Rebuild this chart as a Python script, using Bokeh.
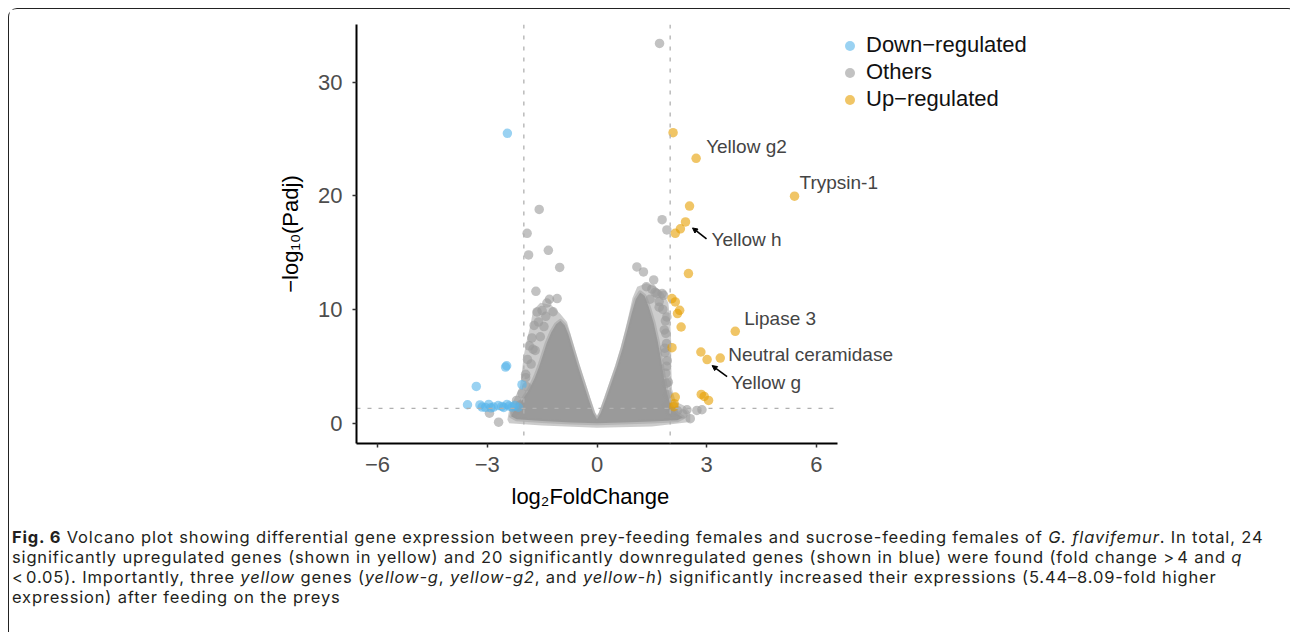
import math
from bokeh.plotting import figure
from bokeh.models import (Range1d, FixedTicker, Legend, LegendItem, Span, Div, Title,
                          Arrow, NormalHead, ColumnDataSource)
from bokeh.layouts import column
from bokeh.core.properties import value
from bokeh.embed import file_html
from bokeh.resources import INLINE

# ---------------- data ----------------
up_x = [2.08, 2.71, 5.40, 2.53, 2.42, 2.28, 2.14, 2.50, 2.05, 2.14, 2.26, 2.20,
        2.30, 3.78, 2.05, 2.84, 3.01, 3.37, 2.85, 2.93, 3.05, 2.14, 2.11, 2.10]
up_y = [25.55, 23.3, 19.97, 19.1, 17.7, 17.1, 16.7, 13.16, 10.96, 10.66, 9.93, 9.64,
        8.46, 8.08, 6.64, 6.26, 5.59, 5.73, 2.53, 2.35, 2.00, 2.29, 1.71, 1.45]

down_x = [-2.45, -2.50, -2.47, -3.30, -2.05, -3.54, -3.14, -2.96, -2.83, -2.60,
          -2.46, -2.32, -3.05, -2.90, -2.70, -2.55, -2.40, -2.25, -2.15, -3.20]
down_y = [25.5, 4.93, 5.05, 3.23, 3.38, 1.62, 1.41, 1.65, 1.41, 1.47,
          1.65, 1.41, 1.38, 1.35, 1.55, 1.38, 1.50, 1.55, 1.40, 1.60]

other_x = [1.71, -1.58, -1.91, -1.87, -1.33, 1.78, 1.91, -1.02, -1.67, -1.09,
           -1.37, -1.64, 1.09, 1.27, 1.55, 1.59, 1.78, 1.64, 1.82, 1.91,
           1.88, 1.85, 1.90, -1.69, -1.80, -1.75, -1.95, -2.05, -2.20, 2.46,
           2.55, 2.73, 2.87, -2.69, -2.94, -1.50, -1.45, 1.70, 1.95, 2.00,
           -1.92, -1.95, -1.90, -1.85, -1.78, -1.72, -1.55, -1.60, -2.10, -2.25,
           -1.40, -1.20, -1.30, 1.90, 1.93, 1.90, 1.88, 1.92, 1.86, 1.90,
           1.84, 1.87, 1.80, 1.70, 1.50, 1.35, 1.45, 2.10, 2.20, 2.35]
other_y = [33.4, 18.8, 16.7, 14.8, 15.2, 17.9, 17.0, 13.7, 11.6, 10.96,
           10.57, 9.78, 13.74, 13.3, 12.6, 11.5, 11.4, 11.4, 11.25, 9.34,
           7.9, 6.6, 5.0, 6.4, 5.2, 6.5, 4.0, 2.6, 2.0, 1.18,
           0.39, 1.12, 1.18, 0.09, 0.88, 9.9, 8.5, 10.2, 3.6, 1.0,
           3.2, 4.3, 5.6, 6.8, 7.5, 8.6, 7.6, 8.9, 1.6, 1.0,
           9.4, 9.8, 10.9, 1.6, 2.5, 3.5, 4.4, 5.5, 6.2, 7.0,
           8.2, 9.0, 10.0, 10.7, 11.8, 12.0, 10.9, 1.0, 1.1, 0.8]

# outer extent of the sparse (single-layer) part of the non-significant cloud
halo_x = [-2.45, -2.40, -2.25, -2.10, -2.05, -2.00, -1.92, -1.82, -1.75, -1.55, -1.25, -1.00, -0.82,
          -0.72, -0.60, -0.46, -0.32, -0.18, -0.05, 0.00, 0.05, 0.19, 0.34, 0.49, 0.64, 0.77,
          0.88, 0.97, 1.10, 1.35, 1.60, 1.80, 1.95, 2.00, 2.03, 2.03, 2.05, 2.15, 2.40, 2.55,
          2.55, 1.50, 0.00, -1.50, -2.40]
halo_y = [0.30, 1.20, 2.20, 3.30, 4.60, 6.00, 7.30, 8.60, 9.90, 10.60, 10.40, 9.60, 8.90,
          7.80, 6.50, 5.00, 3.60, 2.20, 0.90, 0.60, 0.90, 2.20, 3.60, 5.00, 6.60, 8.20,
          9.70, 11.00, 12.00, 12.30, 12.00, 11.50, 10.60, 9.00, 7.00, 5.00, 3.00, 1.90, 1.50, 0.90,
          0.10, -0.30, -0.40, -0.20, 0.00]

# outline (point centres) of the dense, fully overlapping core of the cloud
cloud_x = [-2.35, -2.25, -2.05, -1.85, -1.70, -1.58, -1.48, -1.38, -1.25, -1.12, -1.00,
           -0.88, -0.78, -0.66, -0.52, -0.38, -0.24, -0.10, 0.00,
           0.10, 0.25, 0.40, 0.55, 0.70, 0.83, 0.95, 1.06, 1.18, 1.30,
           1.42, 1.55, 1.66, 1.75, 1.83, 1.92, 2.02, 2.20, 2.35,
           2.20, 1.50, 0.70, 0.00, -0.70, -1.50, -2.20]
cloud_y = [0.60, 1.20, 2.00, 3.00, 4.00, 5.00, 6.00, 7.00, 8.00, 8.70, 9.00,
           8.60, 7.80, 6.50, 5.00, 3.60, 2.20, 0.90, 0.35,
           0.90, 2.20, 3.60, 5.00, 6.60, 8.20, 9.70, 10.90, 11.50, 11.20,
           10.20, 8.80, 7.20, 5.60, 4.00, 2.60, 1.50, 0.80, 0.50,
           0.25, 0.15, 0.05, 0.00, 0.05, 0.20, 0.35]

label_genes = ["Yellow g2", "Trypsin-1", "Yellow h", "Lipase 3", "Neutral ceramidase", "Yellow g"]
label_point = [1, 2, 4, 13, 17, 16]          # index into up_x / up_y

fc_cut = 2.0        # log2(4)
q_cut = 0.05
x_ticks = [-6, -3, 0, 3, 6]
y_ticks = [0, 10, 20, 30]
legend_labels = ["Down\u2212regulated", "Others", "Up\u2212regulated"]
x_title = "log\u2082FoldChange"
y_title = "\u2212log\u2081\u2080(Padj)"

caption_html = (
    "<b>Fig. 6</b> Volcano plot showing differential gene expression between prey-feeding "
    "females and sucrose-feeding females of <i>G. flavifemur</i>. In total, 24<br>"
    "significantly upregulated genes (shown in yellow) and 20 significantly downregulated "
    "genes (shown in blue) were found (fold change &gt;&#8202;4 and <i>q</i><br>"
    "&lt;&#8202;0.05). Importantly, three <i>yellow</i> genes (<i>yellow-g</i>, <i>yellow-g2</i>, "
    "and <i>yellow-h</i>) significantly increased their expressions (5.44\u20138.09-fold higher<br>"
    "expression) after feeding on the preys"
)

# ---------------- styles / geometry ----------------
FONT = "Liberation Sans"
W, H = 1277, 518
FL, FT, FB = 347, 15, 434          # frame box inside the figure
AXR = 828                          # where the visible x axis ends
FR = 1120                          # frame extends further so labels/legend are not clipped
XR0, XR1 = -6.575, 6.575           # visible axis limits
px_x = (AXR - FL) / (XR1 - XR0)
X_END = XR0 + (FR - FL) / px_x
YR = (-1.79, 35.07)
px_y = (FB - FT) / (YR[1] - YR[0])

label_dx = [10, 5, 26, 9, 8, 24]
label_dy = [-12, -14, 18, -13, -4, 23]
arrow_from = {"Yellow h": (21, 17), "Yellow g": (20, 17)}
arrow_to = {"Yellow h": (7, 6), "Yellow g": (5, 6)}

p = figure(width=W, height=H, x_range=Range1d(XR0, X_END), y_range=Range1d(*YR),
           output_backend="svg", toolbar_location=None, title=None,
           min_border_left=FL, min_border_right=W - FR,
           min_border_top=FT, min_border_bottom=H - FB)
p.outline_line_color = None
p.grid.visible = False
p.background_fill_color = "white"
p.border_fill_color = "white"

# cloud: sparse halo + dense core
p.patch(halo_x, halo_y, fill_color="#999999", fill_alpha=0.5, line_color=None)
p.patch(cloud_x, cloud_y, fill_color="#9a9a9a", fill_alpha=1.0,
        line_color="#999999", line_alpha=0.45, line_width=4, line_join="round")

r_other = p.scatter(other_x, other_y, size=9.5, fill_color="#999999", fill_alpha=0.6, line_color=None)
r_down = p.scatter(down_x, down_y, size=9.5, fill_color="#56B4E9", fill_alpha=0.6, line_color=None)
r_up = p.scatter(up_x, up_y, size=9.5, fill_color="#E69F00", fill_alpha=0.6, line_color=None)

DASH = dict(line_color="#b0b0b0", line_width=1.3, line_dash="4 7")
for loc in (-fc_cut, fc_cut):
    p.add_layout(Span(location=loc, dimension="height", **DASH))
q_line = -math.log10(q_cut)
p.segment(x0=[XR0], y0=[q_line], x1=[XR1], y1=[q_line], **DASH)

# labels
lab_src = ColumnDataSource(dict(
    x=[up_x[i] for i in label_point], y=[up_y[i] for i in label_point],
    text=label_genes, dx=label_dx, dy=label_dy))
p.text(x="x", y="y", text="text", x_offset="dx", y_offset="dy", source=lab_src,
       text_font=value(FONT), text_font_size="19px", text_color="#444444",
       text_baseline="middle", text_align="left")

for g in arrow_from:
    i = label_point[label_genes.index(g)]
    (ax0, ay0), (ax1, ay1) = arrow_from[g], arrow_to[g]
    p.add_layout(Arrow(end=NormalHead(size=5, fill_color="black", line_color="black", line_width=1),
                       x_start=up_x[i] + ax0 / px_x, y_start=up_y[i] - ay0 / px_y,
                       x_end=up_x[i] + ax1 / px_x, y_end=up_y[i] - ay1 / px_y,
                       line_color="black", line_width=1.6))

# axes
for ax, ticks in [(p.xaxis, x_ticks), (p.yaxis, y_ticks)]:
    ax.ticker = FixedTicker(ticks=ticks)
    ax.major_label_overrides = {t: (str(t).replace("-", "\u2212")) for t in ticks}
    ax.axis_line_color = "black"
    ax.axis_line_width = 2
    ax.major_tick_line_color = "#333333"
    ax.major_tick_line_width = 1.5
    ax.major_tick_out = 4
    ax.major_tick_in = 0
    ax.minor_tick_line_color = None
    ax.major_label_text_font = FONT
    ax.major_label_text_font_size = "22px"
    ax.major_label_text_color = "#4d4d4d"
    ax.axis_label_text_font = FONT
    ax.axis_label_text_font_size = "22px"
    ax.axis_label_text_font_style = "normal"
    ax.axis_label_text_color = "black"
p.xaxis.bounds = (XR0, XR1)
p.yaxis.axis_label = y_title
p.xaxis.major_label_standoff = 9
p.yaxis.major_label_standoff = 10
p.yaxis.axis_label_standoff = 12

# x axis title, left-aligned under the visible part of the axis
p.add_layout(Title(text=x_title, align="left", offset=155, standoff=19, vertical_align="top",
                   text_font=FONT, text_font_size="22px", text_font_style="normal",
                   text_color="black"), "below")

legend = Legend(items=[LegendItem(label=legend_labels[0], renderers=[r_down]),
                       LegendItem(label=legend_labels[1], renderers=[r_other]),
                       LegendItem(label=legend_labels[2], renderers=[r_up])],
                location=(481, 331), orientation="vertical",
                glyph_width=25, glyph_height=25, label_height=25, spacing=1,
                label_standoff=4, padding=0, margin=0,
                label_text_font=FONT, label_text_font_size="22px", label_text_color="#111111",
                background_fill_alpha=0, border_line_alpha=0)
p.add_layout(legend)

cap = Div(text=('<div style="margin:-5px 0 0 -2px;"><div style="font-family:Inter,sans-serif;'
                'font-size:16.5px;line-height:20px;color:#231f20;white-space:nowrap;'
                'letter-spacing:0.84px;">' + caption_html + '</div></div>'),
          width=W, height=102)

lay = column(p, cap, spacing=0,
             styles={"margin": "8px 0 0 8px",
                     "border-top": "1.5px solid #222", "border-left": "1.5px solid #222",
                     "border-right": "1.5px solid #222", "border-radius": "9px 9px 0 0"})

open("out.html", "w").write(file_html(lay, INLINE))
